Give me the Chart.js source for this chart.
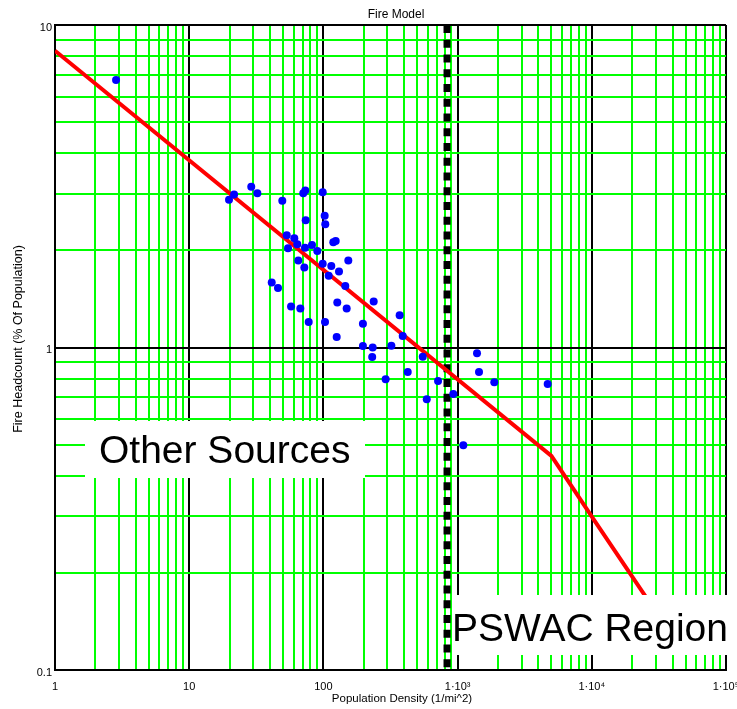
<!DOCTYPE html>
<html><head><meta charset="utf-8">
<script src="https://cdn.jsdelivr.net/npm/chart.js@4"></script>
<style>html,body{margin:0;padding:0;background:#fff}canvas{display:block}</style>
</head><body>
<canvas id="c" width="737" height="709"></canvas>
<script>
const chartTitle = 'Fire Model';
const xAxisTitle = 'Population Density (1/mi^2)';
const yAxisTitle = 'Fire Headcount (% Of Population)';
const xTickValues = [1, 10, 100, 1000, 10000, 100000];
const xTickLabels = ['1', '10', '100', '1·10³', '1·10⁴', '1·10⁵'];
const yTickValues = [0.1, 1, 10];
const yTickLabels = ['0.1', '1', '10'];
const regionLabels = ['Other Sources', 'PSWAC Region'];

// observed data (density, headcount %)
const sourceDensity = [2.85, 19.8, 21.6, 29.0, 32.2, 49.4, 70.8, 73.3, 98.8, 102.2, 103.3, 73.8, 53.3, 60.7, 63.9, 54.5, 72.9, 82.2, 90.1, 118.5, 123.5, 65.0, 72.1, 98.8, 114.5, 109.5, 130.7, 153.3, 145.6, 41.2, 45.9, 57.4, 67.3, 126.9, 149.1, 237, 77.7, 102.8, 197, 125.6, 197, 233, 231, 370, 390, 321, 550, 425, 291, 715, 589, 929, 1395, 1444, 1877, 4692, 1103];
const sourceHeadcount = [6.75, 2.87, 2.98, 3.15, 3.01, 2.85, 3.01, 3.07, 3.03, 2.56, 2.41, 2.48, 2.23, 2.18, 2.09, 2.03, 2.04, 2.08, 1.99, 2.12, 2.14, 1.86, 1.77, 1.82, 1.79, 1.67, 1.72, 1.86, 1.55, 1.59, 1.53, 1.34, 1.32, 1.38, 1.32, 1.39, 1.20, 1.20, 1.185, 1.078, 1.01, 1.0, 0.934, 1.26, 1.086, 1.013, 0.936, 0.839, 0.797, 0.787, 0.691, 0.718, 0.959, 0.839, 0.780, 0.771, 0.498];

// fire model curve
const modelDensity = [1, 5000, 10000, 40000];
const modelHeadcount = [8.32, 0.461, 0.299, 0.127];

// PSWAC region boundary
const boundaryDensity = [834, 834];
const boundaryHeadcount = [10, 0.1];

const FONT = 'Arial, "Liberation Sans", sans-serif';
const isDecade = v => Math.abs(Math.log10(v) - Math.round(Math.log10(v))) < 1e-9;
function allTicks(min, max) {
  const out = [];
  for (let e = Math.round(Math.log10(min)); e < Math.round(Math.log10(max)); e++) {
    for (let m = 1; m < 10; m++) out.push(m * Math.pow(10, e));
  }
  out.push(max);
  return out;
}
function labelFor(vals, labels) {
  return v => { const i = vals.findIndex(t => Math.abs(t - v) / t < 1e-9); return i >= 0 ? labels[i] : ''; };
}

const textPlugin = {
  id: 'textPlugin',
  afterDatasetsDraw(chart) {
    const ctx = chart.ctx;
    ctx.save();
    ctx.fillStyle = '#fff';
    ctx.fillRect(85, 421, 280, 57);
    ctx.fillRect(452, 595, 285, 60);
    ctx.fillStyle = '#000';
    ctx.font = '39px ' + FONT;
    ctx.textAlign = 'left';
    ctx.textBaseline = 'alphabetic';
    ctx.fillText(regionLabels[0], 99, 463);
    ctx.fillText(regionLabels[1], 452, 641);
    ctx.restore();
  },
  afterDraw(chart) {
    const ctx = chart.ctx;
    ctx.save();
    ctx.fillStyle = '#000';
    ctx.textAlign = 'center';
    ctx.textBaseline = 'middle';
    ctx.font = '12px ' + FONT;
    ctx.fillText(chartTitle, 396, 15);
    ctx.font = '11.5px ' + FONT;
    ctx.fillText(xAxisTitle, 402, 699);
    ctx.translate(19, 339);
    ctx.rotate(-Math.PI / 2);
    ctx.font = '12.5px ' + FONT;
    ctx.fillText(yAxisTitle, 0, 0);
    ctx.restore();
  }
};

const gridColor = c => (c.tick && isDecade(c.tick.value)) ? '#000' : '#00ff00';

new Chart(document.getElementById('c'), {
  type: 'scatter',
  data: {
    datasets: [
      {
        label: 'Other Sources',
        data: sourceDensity.map((x, i) => ({ x, y: sourceHeadcount[i] })),
        backgroundColor: '#0000ff', borderColor: '#0000ff',
        pointRadius: 4, pointBorderWidth: 0, showLine: false, order: 1
      },
      {
        label: 'Fire Model',
        data: modelDensity.map((x, i) => ({ x, y: modelHeadcount[i] })),
        borderColor: '#ff0000', borderWidth: 4, pointRadius: 0, showLine: true, fill: false, order: 2
      },
      {
        label: 'PSWAC Boundary',
        data: boundaryDensity.map((x, i) => ({ x, y: boundaryHeadcount[i] })),
        borderColor: '#000', borderWidth: 7, borderDash: [8, 6.75], borderCapStyle: 'butt',
        pointRadius: 0, showLine: true, fill: false, order: 3
      }
    ]
  },
  options: {
    responsive: false,
    animation: false,
    devicePixelRatio: 1,
    layout: { padding: { left: 0, right: 11, top: 25, bottom: 0 } },
    plugins: { legend: { display: false }, title: { display: false }, tooltip: { enabled: false } },
    scales: {
      x: {
        type: 'logarithmic', min: 1, max: 100000,
        afterBuildTicks: s => { s.ticks = allTicks(1, 100000).map(v => ({ value: v })); },
        afterFit: s => { s.height = 39; s.paddingLeft = 0; s.paddingRight = 0; },
        ticks: { autoSkip: false, maxRotation: 0, minRotation: 0, padding: 10, color: '#000',
                 font: { family: FONT, size: 11 }, callback: labelFor(xTickValues, xTickLabels) },
        grid: { color: gridColor, lineWidth: 2, drawTicks: false },
        border: { display: true, color: '#000', width: 2 }
      },
      y: {
        type: 'logarithmic', min: 0.1, max: 10,
        afterBuildTicks: s => { s.ticks = allTicks(0.1, 10).map(v => ({ value: v })); },
        afterFit: s => { s.width = 55; s.paddingTop = 0; s.paddingBottom = 0; },
        ticks: { autoSkip: false, padding: 3, labelOffset: 2.5, color: '#000',
                 font: { family: FONT, size: 11 }, callback: labelFor(yTickValues, yTickLabels) },
        grid: { color: gridColor, lineWidth: 2, drawTicks: false },
        border: { display: true, color: '#000', width: 2 }
      }
    }
  },
  plugins: [textPlugin]
});
</script>
</body></html>
